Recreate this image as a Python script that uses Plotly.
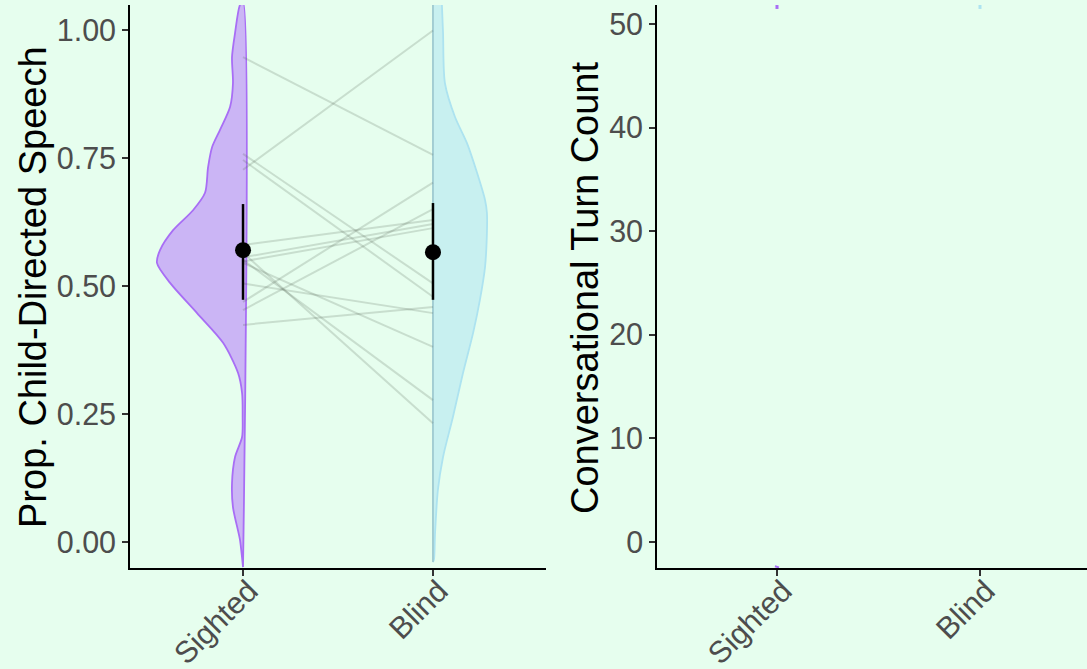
import plotly.graph_objects as go

# ---------------- data ----------------
groups = ["Sighted", "Blind"]

# half-violin outlines (value, half-width in category units)
sighted_violin_y = [1.055, 1.049, 0.994, 0.947, 0.896, 0.850, 0.805, 0.771, 0.732, 0.682, 0.648,
                    0.609, 0.570, 0.545, 0.506, 0.447, 0.389, 0.330, 0.291, 0.244, 0.205, 0.166,
                    0.115, 0.068, 0.004, -0.049]
sighted_violin_w = [0.0, 0.016, 0.042, 0.058, 0.053, 0.068, 0.121, 0.163, 0.184, 0.200, 0.263,
                    0.368, 0.437, 0.453, 0.384, 0.242, 0.105, 0.026, 0.005, 0.002, 0.005, 0.042,
                    0.058, 0.053, 0.016, 0.0]
blind_violin_y = [1.08, 1.049, 0.994, 0.896, 0.830, 0.779, 0.721, 0.668, 0.643, 0.604, 0.537,
                  0.473, 0.408, 0.330, 0.244, 0.166, 0.102, 0.018, -0.035, -0.039]
blind_violin_w = [0.045, 0.047, 0.053, 0.063, 0.116, 0.179, 0.232, 0.274, 0.284, 0.284, 0.274,
                  0.247, 0.211, 0.158, 0.105, 0.053, 0.026, 0.011, 0.005, 0.0]

# paired per-family values
pair_sighted = [0.947, 0.758, 0.746, 0.727, 0.580, 0.565, 0.556, 0.551, 0.548, 0.545, 0.505, 0.469, 0.453, 0.424]
pair_blind = [0.756, 0.505, 0.479, 0.999, 0.629, 0.232, 0.621, 0.277, 0.613, 0.381, 0.447, 0.702, 0.650, 0.459]

# group means and intervals
mean_cds = [0.570, 0.566]
low_cds = [0.473, 0.473]
high_cds = [0.660, 0.662]

# conversational turn count panel (compressed marks)
turn_sighted_top = [51.45, 51.85]
turn_blind_top = [51.45, 51.85]
turn_sighted_bottom = [-2.35, -2.45]

y1_ticks = [0, 0.25, 0.5, 0.75, 1.0]
y1_ticklabels = ["0.00", "0.25", "0.50", "0.75", "1.00"]
y2_ticks = [0, 10, 20, 30, 40, 50]

# ---------------- style ----------------
BG = "#E6FEEE"
PURPLE_FILL = "#CBB5F5"
PURPLE_LINE = "#A86EF5"
CYAN_FILL = "#C8F0F0"
CYAN_LINE = "#ADE3F0"
FONT = "Liberation Sans, Arial, sans-serif"

fig = go.Figure()

# sighted half violin (left side of x=1)
sx = [1 - w for w in sighted_violin_w] + [1, 1]
sy = list(sighted_violin_y) + [sighted_violin_y[-1], sighted_violin_y[0]]
fig.add_trace(go.Scatter(x=sx, y=sy, mode="lines", fill="toself", fillcolor=PURPLE_FILL,
                         line=dict(color=PURPLE_LINE, width=1.8, shape="spline", smoothing=0.8),
                         xaxis="x", yaxis="y", hoverinfo="skip", showlegend=False))
# blind half violin (right side of x=2)
bx = [2 + w for w in blind_violin_w] + [2, 2]
by = list(blind_violin_y) + [blind_violin_y[-1], blind_violin_y[0]]
fig.add_trace(go.Scatter(x=bx, y=by, mode="lines", fill="toself", fillcolor=CYAN_FILL,
                         line=dict(color=CYAN_LINE, width=1.8, shape="spline", smoothing=0.8),
                         xaxis="x", yaxis="y", hoverinfo="skip", showlegend=False))
# flat edge of blind violin slightly greyish
fig.add_trace(go.Scatter(x=[2, 2], y=[blind_violin_y[-1], blind_violin_y[0]], mode="lines",
                         line=dict(color="rgba(150,180,180,0.8)", width=1.2),
                         xaxis="x", yaxis="y", hoverinfo="skip", showlegend=False))

# paired lines
for s, b in zip(pair_sighted, pair_blind):
    fig.add_trace(go.Scatter(x=[1, 2], y=[s, b], mode="lines",
                             line=dict(color="rgba(80,95,80,0.2)", width=2),
                             xaxis="x", yaxis="y", hoverinfo="skip", showlegend=False))

# means with intervals
fig.add_trace(go.Scatter(
    x=[1, 2], y=mean_cds, mode="markers",
    marker=dict(color="black", size=16),
    error_y=dict(type="data", symmetric=False,
                 array=[h - m for h, m in zip(high_cds, mean_cds)],
                 arrayminus=[m - l for m, l in zip(mean_cds, low_cds)],
                 color="black", thickness=2.5, width=0),
    xaxis="x", yaxis="y", showlegend=False))

# right panel marks
fig.add_trace(go.Scatter(x=[1, 1], y=turn_sighted_top, mode="lines",
                         line=dict(color=PURPLE_LINE, width=3), xaxis="x2", yaxis="y2",
                         hoverinfo="skip", showlegend=False))
fig.add_trace(go.Scatter(x=[2, 2], y=turn_blind_top, mode="lines",
                         line=dict(color=CYAN_LINE, width=3), xaxis="x2", yaxis="y2",
                         hoverinfo="skip", showlegend=False))
fig.add_trace(go.Scatter(x=[0.99, 1.01], y=turn_sighted_bottom, mode="lines",
                         line=dict(color=PURPLE_LINE, width=2), xaxis="x2", yaxis="y2",
                         hoverinfo="skip", showlegend=False))

W, H = 1087, 669
tick_font = dict(family=FONT, size=30.5, color="#4D4D4D")
common_axis = dict(showline=True, linecolor="black", linewidth=1.6, ticks="outside",
                   ticklen=6, tickwidth=1.6, tickcolor="#333333", showgrid=False,
                   zeroline=False, tickfont=tick_font, automargin=False)
xtick_extra = dict(ticklabelstandoff=-15, ticklabelshift=6)

ydom = [(H - 568) / H, (H - 5) / H]
fig.update_layout(
    width=W, height=H,
    margin=dict(l=0, r=0, t=0, b=0, autoexpand=False),
    paper_bgcolor=BG, plot_bgcolor=BG,
    xaxis=dict(domain=[130 / W, 546 / W], range=[0.405, 2.595], tickmode="array",
               tickvals=[1, 2], ticktext=groups, tickangle=-45, anchor="y",
               **xtick_extra, **common_axis),
    yaxis=dict(domain=ydom, range=[-0.0508, 1.0488], tickmode="array",
               tickvals=y1_ticks, ticktext=y1_ticklabels, anchor="x",
               ticklabelstandoff=0, **common_axis),
    xaxis2=dict(domain=[657 / W, 1.0], range=[0.409, 2.527], tickmode="array",
                tickvals=[1, 2], ticktext=groups, tickangle=-45, anchor="y2",
                **xtick_extra, **common_axis),
    yaxis2=dict(domain=ydom, range=[-2.51, 51.83], tickmode="array",
                tickvals=y2_ticks, anchor="x2", ticklabelstandoff=0, **common_axis),
    annotations=[
        dict(text="Prop. Child-Directed Speech", x=33 / W, y=(H - 287) / H, xref="paper",
             yref="paper", textangle=-90, showarrow=False, xanchor="center", yanchor="middle",
             font=dict(family=FONT, size=38, color="black")),
        dict(text="Conversational Turn Count", x=585 / W, y=(H - 288) / H, xref="paper",
             yref="paper", textangle=-90, showarrow=False, xanchor="center", yanchor="middle",
             font=dict(family=FONT, size=38, color="black")),
    ],
)

fig.write_html("out.html")
